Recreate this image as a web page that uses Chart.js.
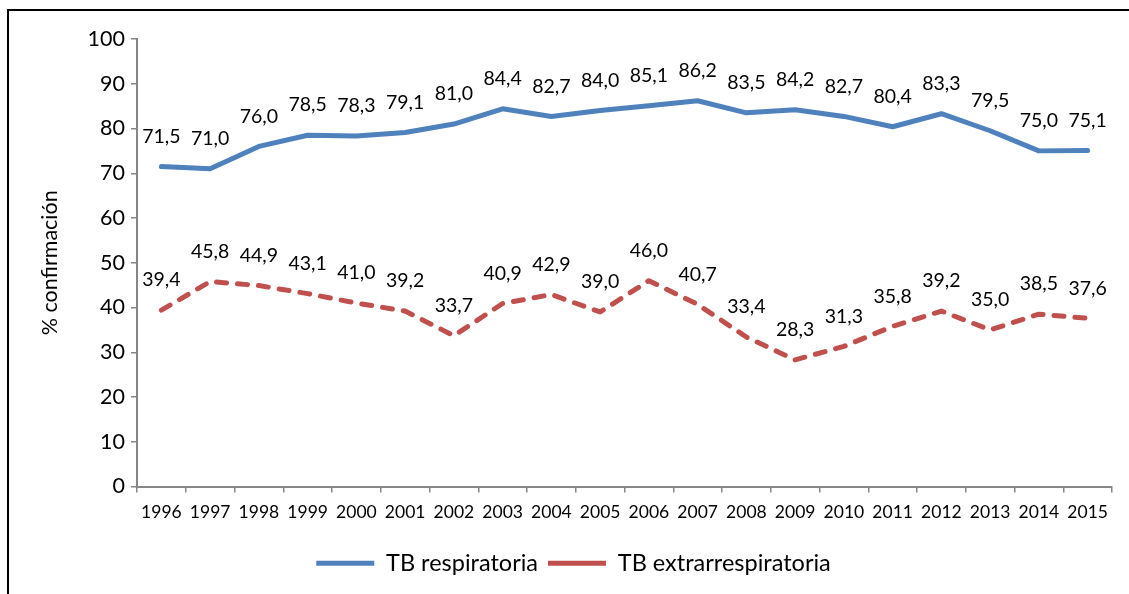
<!DOCTYPE html>
<html>
<head>
<meta charset="utf-8">
<script src="https://cdn.jsdelivr.net/npm/chart.js@4.4.1/dist/chart.umd.min.js"></script>
<style>
  html, body { margin: 0; padding: 0; background: #fff; overflow: hidden; }
  #wrap { position: relative; width: 1129px; height: 594px; }
  #frame { position: absolute; left: 7px; top: 9px; width: 2000px; height: 2000px;
           border-left: 2px solid #000; border-top: 2px solid #000; }
  canvas { position: absolute; left: 0; top: 0; }
</style>
</head>
<body>
<div id="wrap">
  <div id="frame"></div>
  <canvas id="c" width="1129" height="594"></canvas>
</div>
<script>
const years = ['1996','1997','1998','1999','2000','2001','2002','2003','2004','2005',
               '2006','2007','2008','2009','2010','2011','2012','2013','2014','2015'];
const respiratoria = [71.5,71.0,76.0,78.5,78.3,79.1,81.0,84.4,82.7,84.0,
                      85.1,86.2,83.5,84.2,82.7,80.4,83.3,79.5,75.0,75.1];
const extrarrespiratoria = [39.4,45.8,44.9,43.1,41.0,39.2,33.7,40.9,42.9,39.0,
                            46.0,40.7,33.4,28.3,31.3,35.8,39.2,35.0,38.5,37.6];
const seriesNames = ['TB respiratoria','TB extrarrespiratoria'];
const yTitle = '% confirmación';

const FONT = 'Lato, "Open Sans", sans-serif';

const dataLabels = {
  id: 'dataLabels',
  afterDatasetsDraw(chart) {
    const ctx = chart.ctx;
    ctx.save();
    ctx.font = '19.5px ' + FONT;
    ctx.fillStyle = '#000';
    ctx.textAlign = 'center';
    ctx.textBaseline = 'middle';
    chart.data.datasets.forEach((ds, i) => {
      const meta = chart.getDatasetMeta(i);
      meta.data.forEach((pt, j) => {
        const txt = ds.data[j].toFixed(1).replace('.', ',');
        ctx.fillText(txt, pt.x, pt.y - 30);
      });
    });
    ctx.restore();
  }
};

new Chart(document.getElementById('c'), {
  type: 'line',
  data: {
    labels: years,
    datasets: [
      { label: seriesNames[0], data: respiratoria, borderColor: '#4F81BD', backgroundColor: '#4F81BD',
        borderWidth: 5, pointRadius: 0, tension: 0, borderCapStyle: 'round', borderJoinStyle: 'round' },
      { label: seriesNames[1], data: extrarrespiratoria, borderColor: '#C0504D', backgroundColor: '#C0504D',
        borderWidth: 5, pointRadius: 0, tension: 0, borderDash: [10, 11], borderCapStyle: 'round', borderJoinStyle: 'round' }
    ]
  },
  options: {
    responsive: false,
    animation: false,
    devicePixelRatio: 1,
    layout: { padding: { left: 35, right: 17, top: 39, bottom: 9 } },
    plugins: {
      tooltip: { enabled: false },
      legend: {
        position: 'bottom',
        labels: {
          usePointStyle: true,
          pointStyle: 'line',
          pointStyleWidth: 58,
          color: '#000',
          font: { family: FONT, size: 23.5 },
          padding: 10
        }
      }
    },
    scales: {
      x: {
        offset: true,
        afterFit(s) { s.height = 55; },
        grid: { display: true, drawOnChartArea: false, drawTicks: true, tickLength: 6, offset: true, color: '#868686', lineWidth: 1.5 },
        border: { display: true, color: '#868686', width: 2 },
        ticks: { color: '#000', font: { family: FONT, size: 17.5 }, maxRotation: 0, autoSkip: false, padding: 9 }
      },
      y: {
        min: 0, max: 100,
        afterFit(s) { s.width = 102; },
        grid: { display: true, drawOnChartArea: false, drawTicks: true, tickLength: 6, color: '#868686', lineWidth: 1.5 },
        border: { display: true, color: '#868686', width: 2 },
        ticks: { stepSize: 10, color: '#000', font: { family: FONT, size: 21.5 }, padding: 6 },
        title: { display: true, text: yTitle, color: '#000', font: { family: FONT, size: 21.5 }, padding: { top: 2, bottom: 4 } }
      }
    }
  },
  plugins: [dataLabels]
});
</script>
</body>
</html>
